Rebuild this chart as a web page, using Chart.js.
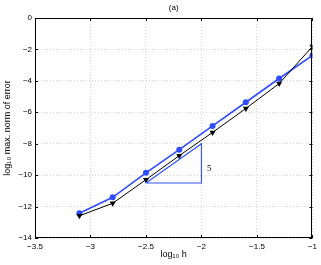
<!DOCTYPE html>
<html>
<head>
<meta charset="utf-8">
<script src="https://cdn.jsdelivr.net/npm/chart.js@4"></script>
<style>
  html, body { margin: 0; padding: 0; background: #fff; }
  #wrap { width: 321px; height: 265px; }
</style>
</head>
<body>
<div id="wrap"><canvas id="grafik"></canvas></div>
<script>
const log_h = [-3.1, -2.8, -2.5, -2.2, -1.9, -1.6, -1.3, -1.0];
const err_biru = [-12.42, -11.41, -9.85, -8.38, -6.87, -5.36, -3.85, -2.38];
const err_hitam = [-12.59, -11.79, -10.29, -8.76, -7.28, -5.76, -4.17, -1.81];
const segitiga_x = [-2.5, -2.0, -2.0, -2.5];
const segitiga_y = [-10.5, -10.5, -8.0, -10.5];
const label_slope = "5";
const label_slope_pos = [-1.95, -9.6];
const judul = "(a)";
const x_ticks = [-3.5, -3, -2.5, -2, -1.5, -1];
const y_ticks = [-14, -12, -10, -8, -6, -4, -2, 0];

const FONT = "'Liberation Sans', Arial, sans-serif";

function gabung(xs, ys) {
  return xs.map((x, i) => ({ x: x, y: ys[i] }));
}

function fmt(v) {
  return String(v).replace("-", "\u2212");
}

const kotakPlugin = {
  id: "kotak",
  afterDraw(chart) {
    const ctx = chart.ctx;
    const a = chart.chartArea;
    const sx = chart.scales.x;
    const sy = chart.scales.y;
    ctx.save();
    ctx.strokeStyle = "#000";
    ctx.lineWidth = 1;
    ctx.strokeRect(Math.round(a.left) + 0.5, Math.round(a.top) + 0.5,
      Math.round(a.right - a.left) - 1, Math.round(a.bottom - a.top) - 1);
    ctx.beginPath();
    x_ticks.forEach((v) => {
      const px = Math.round(sx.getPixelForValue(v)) + 0.5;
      ctx.moveTo(px, a.bottom); ctx.lineTo(px, a.bottom - 3);
      ctx.moveTo(px, a.top); ctx.lineTo(px, a.top + 3);
    });
    y_ticks.forEach((v) => {
      const py = Math.round(sy.getPixelForValue(v)) + 0.5;
      ctx.moveTo(a.left, py); ctx.lineTo(a.left + 3, py);
      ctx.moveTo(a.right, py); ctx.lineTo(a.right - 3, py);
    });
    ctx.stroke();
    ctx.fillStyle = "#000";
    ctx.textBaseline = "middle";
    ctx.textAlign = "center";
    ctx.font = "8px " + FONT;
    ctx.fillText(judul, (a.left + a.right) / 2, 8);
    ctx.font = "9px 'Liberation Serif', 'Times New Roman', serif";
    ctx.textAlign = "left";
    ctx.fillText(label_slope, sx.getPixelForValue(label_slope_pos[0]),
      sy.getPixelForValue(label_slope_pos[1]));
    ctx.restore();
  },
};

const grafik = new Chart(document.getElementById("grafik").getContext("2d"), {
  type: "scatter",
  data: {
    datasets: [
      {
        label: "segitiga",
        data: gabung(segitiga_x, segitiga_y),
        showLine: true,
        borderColor: "#3355ff",
        borderWidth: 1.2,
        pointRadius: 0,
        fill: false,
      },
      {
        label: "hitam",
        data: gabung(log_h, err_hitam),
        showLine: true,
        borderColor: "#000",
        backgroundColor: "#000",
        borderWidth: 1,
        pointStyle: "triangle",
        rotation: 180,
        pointRadius: 3.5,
        pointBorderWidth: 0,
      },
      {
        label: "biru",
        data: gabung(log_h, err_biru),
        showLine: true,
        borderColor: "#2f4cff",
        backgroundColor: "#2f4cff",
        borderWidth: 1.6,
        pointStyle: "circle",
        pointRadius: 3,
        pointBorderWidth: 0,
      },
    ],
  },
  options: {
    responsive: true,
    maintainAspectRatio: false,
    animation: false,
    layout: { padding: { left: 0, right: 7, top: 18, bottom: 0 } },
    plugins: {
      legend: { display: false },
      tooltip: { enabled: false },
    },
    scales: {
      x: {
        type: "linear",
        min: -3.5,
        max: -1,
        afterBuildTicks: (s) => { s.ticks = x_ticks.map((v) => ({ value: v })); },
        afterFit: (s) => { s.height = 27; },
        ticks: {
          color: "#000",
          font: { family: FONT, size: 8 },
          padding: 4,
          maxRotation: 0,
          callback: (v) => fmt(v),
        },
        grid: {
          color: "#c8c8c8",
          lineWidth: 0.8,
          drawTicks: false,
        },
        border: { display: false, dash: [1, 2] },
        title: {
          display: true,
          text: "log\u2081\u2080 h",
          color: "#000",
          font: { family: FONT, size: 9 },
          padding: { top: 0, bottom: 5.5 },
        },
      },
      y: {
        type: "linear",
        min: -14,
        max: 0,
        afterBuildTicks: (s) => { s.ticks = y_ticks.map((v) => ({ value: v })); },
        afterFit: (s) => { s.width = 35; },
        ticks: {
          color: "#000",
          font: { family: FONT, size: 8 },
          padding: 3,
          callback: (v) => fmt(v),
        },
        grid: {
          color: "#c8c8c8",
          lineWidth: 0.8,
          drawTicks: false,
        },
        border: { display: false, dash: [1, 2] },
        title: {
          display: true,
          text: "log\u2081\u2080 max. norm of error",
          color: "#000",
          font: { family: FONT, size: 9 },
          padding: { top: 2, bottom: 0 },
        },
      },
    },
  },
  plugins: [kotakPlugin],
});
</script>
</body>
</html>
